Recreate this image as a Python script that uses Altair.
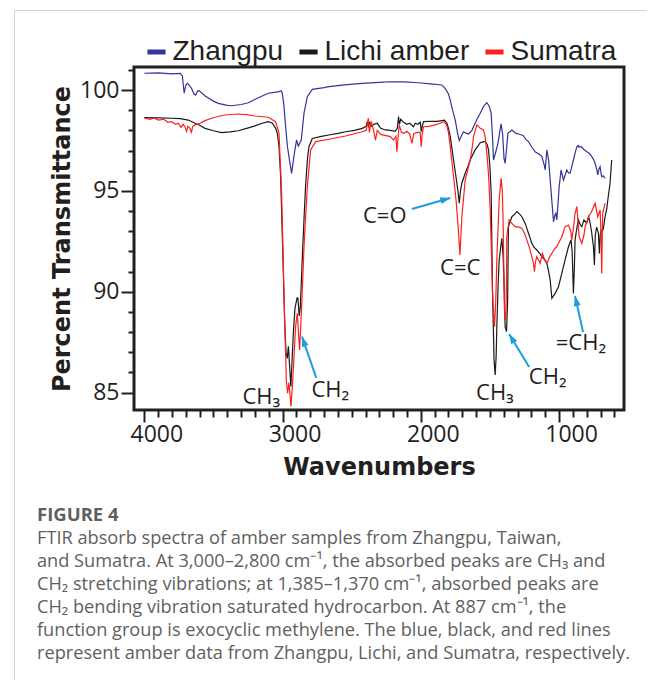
import math
import altair as alt
import pandas as pd

# ---------------- data ----------------
zhangpu_wn = [4000, 3900, 3800, 3740, 3725, 3712, 3700, 3687, 3660, 3640, 3629, 3615, 3605, 3560, 3500,
              3465, 3400, 3369, 3300, 3248, 3180, 3103, 3060, 3026, 3010, 3002, 2990, 2978, 2965, 2954,
              2935, 2915, 2899, 2886, 2865, 2845, 2821, 2785, 2700, 2665, 2550, 2424, 2300, 2221, 2120,
              2017, 1930, 1848, 1824, 1800, 1787, 1770, 1751, 1735, 1722, 1705, 1691, 1670, 1655, 1630,
              1619, 1590, 1570, 1545, 1522, 1505, 1491, 1480, 1474, 1455, 1442, 1425, 1419, 1408, 1398,
              1390, 1378, 1370, 1341, 1310, 1293, 1260, 1240, 1221, 1200, 1173, 1140, 1124, 1108, 1100,
              1088, 1075, 1064, 1052, 1040, 1030, 1023, 1016, 1008, 999, 985, 968, 955, 944, 932, 920,
              908, 896, 883, 871, 860, 855, 840, 820, 799, 780, 763, 750, 739, 725, 720, 710, 703, 697,
              691, 680, 667]
zhangpu_t = [100.83, 100.85, 100.80, 100.82, 100.7, 99.84, 100.25, 100.33, 100.1, 99.8, 99.75, 99.95, 99.97,
             99.7, 99.45, 99.34, 99.24, 99.22, 99.28, 99.37, 99.6, 99.84, 99.88, 99.92, 99.96, 99.84, 99.2,
             98.18, 97.2, 96.7, 95.87, 96.86, 97.52, 97.22, 97.52, 98.85, 99.67, 100.03, 100.12, 100.17,
             100.25, 100.33, 100.38, 100.41, 100.4, 100.36, 100.3, 100.25, 100.08, 99.8, 99.5, 99.0, 98.51,
             97.9, 97.49, 97.75, 97.93, 97.85, 97.82, 98.0, 98.18, 98.6, 98.85, 99.2, 99.37, 99.2, 98.85,
             97.5, 96.53, 97.0, 97.36, 98.1, 98.32, 97.8, 96.6, 96.37, 97.2, 97.85, 98.02, 97.85, 97.82,
             97.75, 97.55, 97.44, 97.2, 96.94, 96.8, 96.7, 96.3, 96.04, 97.03, 96.5, 95.54, 94.5, 93.47,
             93.8, 93.89, 93.56, 94.3, 95.21, 96.04, 95.54, 95.8, 96.04, 95.9, 95.87, 96.2, 96.53, 96.9,
             97.19, 97.25, 97.16, 97.2, 97.05, 96.94, 96.85, 96.7, 96.55, 96.37, 96.0, 95.79, 96.1, 96.2,
             95.9, 95.7, 95.75, 95.62]

lichi_wn = [4000, 3900, 3803, 3740, 3682, 3633, 3600, 3561, 3500, 3441, 3380, 3320, 3260, 3200, 3147, 3103,
            3074, 3050, 3038, 3026, 3014, 3005, 2997, 2985, 2975, 2966, 2958, 2950, 2940, 2932, 2922, 2910,
            2895, 2889, 2880, 2872, 2858, 2845, 2834, 2820, 2809, 2785, 2720, 2665, 2600, 2544, 2480, 2424,
            2395, 2388, 2380, 2370, 2355, 2340, 2315, 2290, 2257, 2220, 2185, 2170, 2161, 2155, 2145, 2125,
            2100, 2080, 2053, 2040, 2020, 2003, 1997, 1990, 1980, 1930, 1880, 1829, 1811, 1800, 1787, 1763,
            1739, 1730, 1722, 1713, 1703, 1679, 1660, 1643, 1607, 1570, 1545, 1534, 1520, 1510, 1500, 1491,
            1481, 1470, 1462, 1455, 1450, 1440, 1433, 1414, 1405, 1399, 1390, 1380, 1372, 1366, 1341, 1320,
            1305, 1285, 1269, 1245, 1221, 1197, 1180, 1161, 1140, 1124, 1105, 1088, 1075, 1064, 1052, 1040,
            1028, 1015, 1004, 980, 956, 932, 913, 905, 896, 889, 884, 870, 860, 845, 835, 820, 800, 786, 775,
            765, 751, 744, 738, 728, 715, 708, 702, 696, 680, 667, 655, 647, 631, 619]
lichi_t = [98.63, 98.62, 98.6, 98.58, 98.51, 98.35, 98.25, 98.1, 97.98, 97.89, 97.92, 97.98, 98.1, 98.22,
           98.35, 98.43, 98.35, 98.1, 97.85, 97.2, 95.7, 93.5, 91.58, 88.5, 87.0, 86.7, 87.3, 86.4, 85.3,
           86.5, 88.0, 89.2, 89.7, 89.68, 88.8, 89.2, 91.6, 93.6, 95.2, 96.6, 97.2, 97.6, 97.7, 97.77,
           97.85, 97.93, 98.0, 98.1, 98.2, 98.43, 98.2, 98.38, 98.2, 98.3, 98.35, 98.1, 98.02, 98.0, 97.95,
           98.1, 98.68, 98.3, 98.55, 98.4, 98.3, 98.35, 98.18, 98.35, 98.3, 98.4, 97.93, 98.2, 98.43,
           98.45, 98.45, 98.51, 98.35, 98.1, 97.69, 96.53, 95.38, 94.9, 94.39, 95.0, 95.38, 95.87, 96.2,
           96.53, 97.03, 97.39, 97.44, 97.44, 97.3, 97.03, 96.2, 94.88, 89.92, 86.6, 85.88, 86.8, 88.27,
           90.5, 91.58, 92.65, 91.8, 90.75, 88.27, 88.02, 89.5, 93.23, 93.72, 93.85, 93.97, 93.85, 93.72,
           93.39, 92.9, 92.4, 92.2, 92.07, 91.9, 91.74, 91.6, 91.41, 91.0, 90.58, 89.68, 89.8, 89.92, 90.1,
           90.25, 90.91, 91.58, 92.23, 92.57, 92.0, 89.92, 91.2, 92.57, 93.2, 93.56, 93.3, 93.23, 93.56,
           93.4, 93.72, 93.4, 93.0, 92.23, 91.33, 92.8, 93.2, 92.9, 91.9, 92.8, 93.06, 93.1, 93.72, 94.1,
           94.55, 95.38, 96.53]

sumatra_wn = [4000, 3960, 3930, 3899, 3860, 3830, 3803, 3775, 3754, 3735, 3720, 3706, 3695, 3685, 3670, 3660,
              3650, 3633, 3597, 3561, 3513, 3460, 3417, 3320, 3260, 3200, 3103, 3051, 3026, 3007, 2990, 2973,
              2964, 2954, 2939, 2925, 2906, 2894, 2877, 2863, 2845, 2821, 2797, 2761, 2665, 2544, 2424, 2395,
              2380, 2372, 2360, 2345, 2328, 2315, 2290, 2221, 2197, 2180, 2173, 2165, 2156, 2140, 2125, 2100,
              2080, 2064, 2050, 2020, 2005, 1997, 1990, 1980, 1940, 1896, 1860, 1836, 1815, 1800, 1787, 1763,
              1745, 1730, 1717, 1703, 1679, 1643, 1625, 1619, 1594, 1570, 1547, 1535, 1522, 1510, 1498, 1481,
              1467, 1458, 1450, 1433, 1419, 1410, 1404, 1395, 1385, 1380, 1378, 1361, 1341, 1317, 1290, 1269,
              1250, 1233, 1215, 1197, 1185, 1178, 1170, 1161, 1150, 1137, 1120, 1105, 1088, 1070, 1052, 1035,
              1016, 1000, 980, 956, 932, 915, 908, 895, 884, 871, 863, 855, 835, 820, 811, 786, 770, 759, 739,
              728, 720, 710, 703, 697, 691, 687, 684, 667]
sumatra_t = [98.6, 98.55, 98.62, 98.51, 98.55, 98.4, 98.43, 98.3, 98.35, 98.15, 98.3, 98.18, 97.95, 98.2, 98.1,
             97.9, 98.2, 98.27, 98.35, 98.48, 98.6, 98.7, 98.76, 98.81, 98.78, 98.71, 98.65, 98.43, 97.85,
             94.88, 89.92, 85.63, 84.97, 85.5, 84.31, 85.79, 88.27, 88.93, 87.12, 89.1, 92.23, 95.21, 97.03,
             97.44, 97.56, 97.72, 97.93, 98.0, 98.6, 97.9, 98.45, 98.1, 97.52, 98.0, 97.8, 97.69, 97.52, 97.7,
             96.94, 97.6, 98.27, 97.9, 97.85, 97.95, 97.8, 97.36, 97.85, 97.9, 97.9, 97.19, 97.8, 98.18, 98.2,
             98.27, 98.35, 98.43, 98.3, 97.9, 97.19, 95.7, 94.55, 93.23, 91.82, 93.72, 95.54, 96.53, 97.3,
             97.69, 98.27, 98.1, 98.02, 97.7, 96.86, 95.8, 94.05, 89.92, 88.27, 89.5, 91.58, 94.55, 95.62,
             95.0, 93.23, 89.1, 88.6, 90.5, 92.73, 93.56, 93.39, 93.23, 93.2, 93.15, 92.9, 92.57, 92.2, 91.74,
             91.4, 91.0, 91.5, 91.74, 91.6, 91.41, 91.9, 91.6, 91.41, 91.7, 91.9, 92.1, 92.23, 92.45, 92.73,
             93.23, 93.31, 93.0, 92.57, 93.2, 93.89, 94.22, 93.5, 92.73, 92.4, 92.8, 93.23, 93.72, 93.9, 94.05,
             94.39, 94.0, 93.72, 93.9, 94.05, 93.0, 90.91, 92.8, 93.89, 94.39]

series_names = ["Zhangpu", "Lichi amber", "Sumatra"]

ann_text = ["C=O", "C=C", "CH\u2083", "CH\u2082", "CH\u2083", "CH\u2082", "=CH\u2082"]
ann_wn = [2261, 1715, 3154, 2655, 1464, 1082, 842]
ann_t = [93.77, 91.2, 84.8, 85.13, 84.97, 85.8, 87.45]

arrow_wn0 = [2065, 2756, 1216, 826]
arrow_t0 = [94.1, 85.73, 86.27, 88.0]
arrow_wn1 = [1787, 2860, 1361, 884]
arrow_t1 = [94.65, 87.78, 87.91, 89.79]

x_ticks = list(range(600, 4001, 100))
y_ticks = list(range(85, 102))

caption_head = "FIGURE 4"
caption_lines = [
    "FTIR absorb spectra of amber samples from Zhangpu, Taiwan,",
    "and Sumatra. At 3,000\u20132,800 cm\u207b\u00b9, the absorbed peaks are CH\u2083 and",
    "CH\u2082 stretching vibrations; at 1,385\u20131,370 cm\u207b\u00b9, absorbed peaks are",
    "CH\u2082 bending vibration saturated hydrocarbon. At 887 cm\u207b\u00b9, the",
    "function group is exocyclic methylene. The blue, black, and red lines",
    "represent amber data from Zhangpu, Lichi, and Sumatra, respectively.",
]

# ---------------- styling ----------------
INK = "#231f20"
ARROW = "#1e9ce0"
series_colors = ["#34349c", "#1a1a1a", "#ff1f1f"]
X_DOMAIN = [530, 4075]
Y_DOMAIN = [84.14, 101.14]
W, H = 490, 343

rows = []
for name, wns, ts in [("Zhangpu", zhangpu_wn, zhangpu_t),
                      ("Lichi amber", lichi_wn, lichi_t),
                      ("Sumatra", sumatra_wn, sumatra_t)]:
    for a, b in zip(wns, ts):
        rows.append({"series": name, "wn": a, "T": b})
df = pd.DataFrame(rows)

ann_df = pd.DataFrame({"wn": ann_wn, "T": ann_t, "label": ann_text})

pxw = W / (X_DOMAIN[1] - X_DOMAIN[0])
pxh = H / (Y_DOMAIN[1] - Y_DOMAIN[0])
angles = []
for a0, b0, a1, b1 in zip(arrow_wn0, arrow_t0, arrow_wn1, arrow_t1):
    dx = -(a1 - a0) * pxw
    dy = -(b1 - b0) * pxh
    angles.append(math.degrees(math.atan2(dx, -dy)) % 360)
arrow_df = pd.DataFrame({"wn": arrow_wn0, "T": arrow_t0, "wn2": arrow_wn1, "T2": arrow_t1, "ang": angles})

xscale = alt.Scale(domain=X_DOMAIN, reverse=True, nice=False, zero=False)
yscale = alt.Scale(domain=Y_DOMAIN, nice=False, zero=False)

x_axis = alt.Axis(
    values=x_ticks, format="d",
    labelExpr="datum.value % 1000 === 0 ? datum.label : ''",
    tickSize={"condition": {"test": "datum.value % 1000 === 0", "value": 12}, "value": 7},
    tickWidth=2, tickColor=INK, domain=False, grid=False,
    labelFont="Open Sans", labelFontSize=23, labelColor=INK, labelPadding=1,
    labelOffset=12, labelFlush=False, labelOverlap=False,
    title="Wavenumbers", titleFont="DejaVu Sans", titleFontSize=24, titleFontWeight="bold",
    titleColor=INK, titlePadding=9,
)
y_axis = alt.Axis(
    values=y_ticks,
    labelExpr="datum.value % 5 === 0 ? datum.label : ''",
    tickSize={"condition": {"test": "datum.value % 5 === 0", "value": 13}, "value": 6},
    tickWidth=2, tickColor=INK, domain=False, grid=False,
    labelFont="Open Sans", labelFontSize=23, labelColor=INK, labelPadding=2,
    labelOverlap=False, labelFlush=False,
    title="Percent Transmittance", titleFont="DejaVu Sans", titleFontSize=24, titleFontWeight="bold",
    titleColor=INK, titlePadding=5,
)

legend = alt.Legend(
    title=None, orient="none", legendX=8.5, legendY=-29, direction="horizontal",
    symbolType="stroke", symbolStrokeWidth=5, symbolSize=330,
    labelFont="Liberation Sans", labelFontSize=28, labelColor=INK, labelOffset=2,
    labelExpr="datum.label == 'Lichi amber' ? 'Lichi amber\u00a0\u00a0' : datum.label",
    columnPadding=5, padding=0,
)

X = lambda f: alt.X(f, scale=xscale, axis=x_axis)
Y = lambda f: alt.Y(f, scale=yscale, axis=y_axis)

lines = alt.Chart(df).mark_line(strokeWidth=1.2, clip=True).encode(
    x=X("wn:Q"), y=Y("T:Q"),
    color=alt.Color("series:N", scale=alt.Scale(domain=series_names, range=series_colors), legend=legend),
)

ann = alt.Chart(ann_df).mark_text(font="Open Sans", fontSize=22, color=INK, align="center",
                                  baseline="middle").encode(
    x=X("wn:Q"), y=Y("T:Q"), text="label:N")

shafts = alt.Chart(arrow_df).mark_rule(strokeWidth=2, color=ARROW).encode(
    x=X("wn:Q"), y=Y("T:Q"), x2="wn2:Q", y2="T2:Q")

heads = alt.Chart(arrow_df).mark_point(shape="M0,0L-0.7,2L0.7,2Z", filled=True, size=100, opacity=1,
                                       color=ARROW, strokeWidth=0).encode(
    x=X("wn2:Q"), y=Y("T2:Q"), angle=alt.Angle("ang:Q", scale=None))

one = pd.DataFrame({"a": [0]})
border_left = alt.Chart(one).mark_rule(color="#d4d4d4", strokeWidth=1).encode(
    x=alt.value(-119.5), y=alt.value(-56.5), y2=alt.value(640))
border_top = alt.Chart(one).mark_rule(color="#d4d4d4", strokeWidth=1).encode(
    x=alt.value(-119.5), x2=alt.value(530), y=alt.value(-56.5))

cap_head = alt.Chart(one).mark_text(font="Open Sans", fontSize=18.5, fontWeight="bold", color="#5f5f5f",
                                    align="left", baseline="alphabetic").encode(
    x=alt.value(-97), y=alt.value(454), text=alt.value(caption_head))
cap_body = alt.Chart(one).mark_text(font="Open Sans", fontSize=18.2, color="#5f5f5f", align="left",
                                    baseline="alphabetic", lineHeight=23).encode(
    x=alt.value(-97), y=alt.value(477), text=alt.value(caption_lines))

chart = alt.layer(lines, ann, shafts, heads, border_left, border_top, cap_head, cap_body).properties(
    width=W, height=H,
    autosize=alt.AutoSizeParams(type="none"),
    padding={"left": 126, "top": 59, "right": 23, "bottom": 270},
    background="white",
).configure_view(stroke=INK, strokeWidth=3)

chart.save("out.html", embed_options={"renderer": "svg", "actions": False})
